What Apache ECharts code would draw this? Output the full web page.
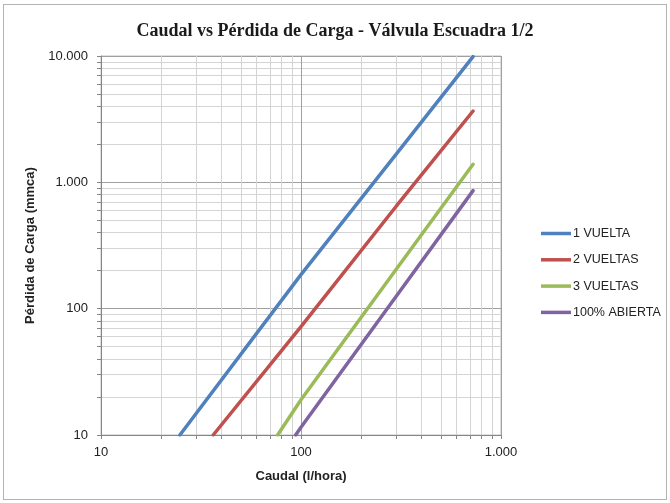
<!DOCTYPE html>
<title>valvula escuadra</title>
<style>
body {margin: 0; background: #fff;}
#frame {position: absolute; left: 3px; top: 4px; width: 664px; height: 496px; box-sizing: border-box; border: 1px solid #b3b3b3;}
#echart {position: absolute; left: 0; top: 0; height: 503px; width: 670px;}
</style>
<div id='frame'></div>
<div id='echart'></div>
<script src='https://cdn.jsdelivr.net/npm/echarts@6.0.0/dist/echarts.min.js'></script>
<script>
// flow (l/hora) and head loss (mmca)
let names = ['1 VUELTA', '2 VUELTAS', '3 VUELTAS', '100% ABIERTA']
let colors = ['#4f81bd', '#c0504d', '#9bbb59', '#8064a2']
let caudal_1 = [24.8, 100, 300, 725]
let perdida_1 = [10, 186, 1680, 9900]
let caudal_2 = [36.4, 100, 300, 725]
let perdida_2 = [10, 72, 650, 3670]
let caudal_3 = [76.4, 100, 300, 725]
let perdida_3 = [10, 19, 206, 1390]
let caudal_4 = [94, 100, 300, 725]
let perdida_4 = [10, 11.5, 126, 860]

let x_minor = [20, 30, 40, 50, 60, 70, 80, 90, 200, 300, 400, 500, 600, 700, 800, 900]
let y_minor = [20, 30, 40, 50, 60, 70, 80, 90, 200, 300, 400, 500, 600, 700, 800, 900,
	2000, 3000, 4000, 5000, 6000, 7000, 8000, 9000]

let caudales = [caudal_1, caudal_2, caudal_3, caudal_4]
let perdidas = [perdida_1, perdida_2, perdida_3, perdida_4]

let fmt = v => String(Math.round(v)).replace(/\B(?=(\d{3})+(?!\d))/g, '.')
let label_font = {fontFamily: 'Liberation Sans', fontSize: 13, color: '#222'}
let name_font = {fontFamily: 'Liberation Sans', fontSize: 13, fontWeight: 'bold', color: '#222'}

let series = names.map((name, i) => ({
	type: 'line', name: name,
	data: caudales[i].map((x, j) => [x, perdidas[i][j]]),
	showSymbol: false, symbol: 'none', clip: true,
	lineStyle: {width: 3.5, color: colors[i], cap: 'round'},
	itemStyle: {color: colors[i]},
	z: 5,
}))

let echart = echarts.init(document.querySelector('#echart'), null, {renderer: 'canvas'})
let option = {
	animation: false,
	title: {
		text: 'Caudal vs Pérdida de Carga - Válvula Escuadra 1/2',
		left: 'center', top: 17,
		textStyle: {fontFamily: 'Liberation Serif', fontSize: 18, fontWeight: 'bold', color: '#1a1a1a'},
	},
	grid: {left: 101, right: 169, top: 56, bottom: 68, show: true, borderColor: '#bfbfbf', borderWidth: 1},
	xAxis: [
		{type: 'log', logBase: 10, min: 10, max: 1000,
			name: 'Caudal (l/hora)', nameLocation: 'middle', nameGap: 35, nameTextStyle: name_font,
			axisLine: {lineStyle: {color: '#868686'}},
			axisTick: {show: true, length: 4, lineStyle: {color: '#868686'}},
			axisLabel: {formatter: fmt, margin: 11, ...label_font},
			splitLine: {show: true, lineStyle: {color: '#a0a0a0'}},
			minorTick: {show: false}, minorSplitLine: {show: false}},
		{type: 'log', logBase: 10, min: 10, max: 1000, position: 'bottom',
			axisLine: {show: false},
			axisTick: {show: true, length: 4, customValues: x_minor, lineStyle: {color: '#868686'}},
			axisLabel: {show: false},
			splitLine: {show: true, lineStyle: {color: '#d4d4d4'}}},
	],
	yAxis: [
		{type: 'log', logBase: 10, min: 10, max: 10000,
			name: 'Pérdida de Carga (mmca)', nameLocation: 'middle', nameGap: 59, nameTextStyle: name_font,
			axisLine: {show: true, lineStyle: {color: '#868686'}},
			axisTick: {show: true, length: 4, lineStyle: {color: '#868686'}},
			axisLabel: {formatter: fmt, margin: 13, ...label_font},
			splitLine: {show: true, lineStyle: {color: '#a0a0a0'}},
			minorTick: {show: false}, minorSplitLine: {show: false}},
		{type: 'log', logBase: 10, min: 10, max: 10000, position: 'left',
			axisLine: {show: false},
			axisTick: {show: true, length: 4, customValues: y_minor, lineStyle: {color: '#868686'}},
			axisLabel: {show: false},
			splitLine: {show: true, lineStyle: {color: '#d4d4d4'}}},
	],
	legend: {
		data: names, orient: 'vertical', left: 536, top: 222,
		icon: 'rect', itemWidth: 30, itemHeight: 3.5, itemGap: 13.3,
		textStyle: {fontFamily: 'Liberation Sans', fontSize: 12.5, color: '#222', padding: [0, 0, 0, -3]},
	},
	series: series,
}

echart.setOption(option)
addEventListener('resize', function (event) {echart.resize()})
</script>
